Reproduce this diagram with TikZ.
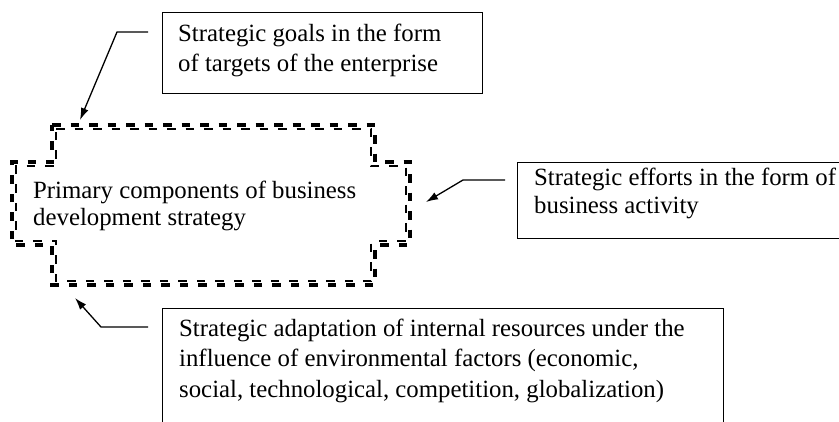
\documentclass[tikz,border=0pt]{standalone}
\usepackage{fontspec}
\setmainfont{Liberation Serif}
\usetikzlibrary{arrows.meta}
\newcommand\crossoutline[1]{(52+#1,125+#1) -- (375-#1,125+#1) -- (375-#1,162+#1) -- (410-#1,162+#1) -- (410-#1,245-#1) -- (375-#1,245-#1) -- (375-#1,285-#1) -- (52+#1,285-#1) -- (52+#1,245-#1) -- (12+#1,245-#1) -- (12+#1,162+#1) -- (52+#1,162+#1) -- cycle}
\begin{document}
\begin{tikzpicture}[x=1pt,y=-1pt,
  box/.style={draw, line width=1.4pt, rectangle, inner sep=0pt, anchor=north west},
  txt/.style={anchor=base west, inner sep=0pt, align=left},
  conn/.style={line width=1.3pt, -{Latex[length=12pt,width=8pt]}},
  dashthick/.style={line width=3.2pt, dash pattern=on 8.5pt off 10pt},
  dashthin/.style={line width=1.6pt, dash pattern=on 8.5pt off 10pt},
]
\path[use as bounding box, clip] (0,0) rectangle (839,421);
% boxes
\node[box, minimum width=320pt, minimum height=81pt] (b1) at (162,12) {};
\node[box, minimum width=340pt, minimum height=76pt] (b2) at (517,162) {};
\node[box, minimum width=561pt, minimum height=130pt] (b3) at (162,308) {};
% texts (anchored at the baseline of the last line)
\node[txt, font=\fontsize{24.8}{30}\selectfont] (t1) at (178,71) {Strategic goals in the form\\of targets of the enterprise};
\node[txt, font=\fontsize{24.8}{28}\selectfont] (t2) at (534,213.5) {Strategic efforts in the form of\\business activity};
\node[txt, font=\fontsize{24.8}{30.5}\selectfont] (t3) at (179,397) {Strategic adaptation of internal resources under the\\influence of environmental factors (economic,\\social, technological, competition, globalization)};
\node[txt, font=\fontsize{24.8}{27}\selectfont] (core) at (33,225.5) {Primary components of business\\development strategy};
% dashed cross outline
\draw[dashthick] \crossoutline{0};
\draw[dashthin] \crossoutline{4};
% connectors
\coordinate (a1s) at (148,32); \coordinate (a1k) at (117,32); \coordinate (a1e) at (80,120);
\coordinate (a2s) at (505,180); \coordinate (a2k) at (463,180); \coordinate (a2e) at (426,202);
\coordinate (a3s) at (148,327); \coordinate (a3k) at (101,327); \coordinate (a3e) at (75,298);
\draw[conn] (a1s) -- (a1k) -- (a1e);
\draw[conn] (a2s) -- (a2k) -- (a2e);
\draw[conn] (a3s) -- (a3k) -- (a3e);
\end{tikzpicture}
\end{document}
